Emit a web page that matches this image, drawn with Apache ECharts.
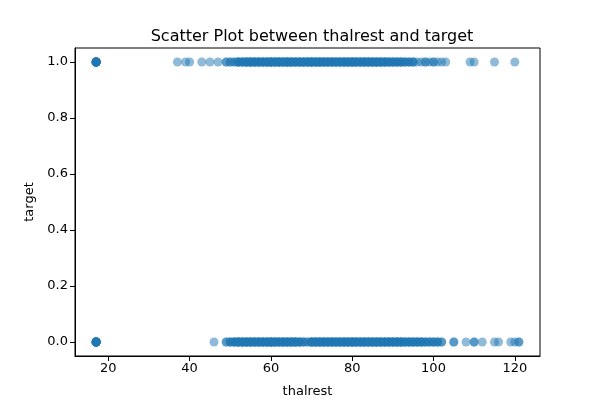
<!DOCTYPE html>
<html>
<head>
<meta charset="utf-8">
<script src="https://cdn.jsdelivr.net/npm/echarts@6/dist/echarts.min.js"></script>
<style>
  html, body { margin: 0; padding: 0; background: #fff; }
  #main { width: 600px; height: 400px; }
</style>
</head>
<body>
<div id="main"></div>
<script>
// target = 1 : thalrest values and how many rows share each value
const thalrest1 = [17, 37, 39, 40, 43, 45, 47, 49, 50, 51,
  52, 53, 54, 55, 56, 57, 58, 59, 60, 61, 62, 63, 64, 65, 66, 67, 68, 69, 70, 71, 72, 73,
  74, 75, 76, 77, 78, 79, 80, 81, 82, 83, 84, 85, 86, 87, 88, 89, 90, 91, 92, 93, 94, 95,
  96, 97, 98, 99, 100, 101, 102, 103, 109, 110, 115, 120]
const count1 = [10, 1, 1, 1, 1, 1, 1, 2, 2, 2,
  4, 4, 5, 5, 5, 5, 5, 5, 6, 5, 6, 5, 6, 5, 5, 5, 5, 5, 6, 5, 6, 5,
  5, 5, 5, 5, 5, 5, 6, 5, 5, 5, 5, 5, 5, 5, 5, 4, 4, 4, 4, 3, 3, 3,
  1, 1, 2, 1, 2, 1, 1, 1, 1, 1, 1, 1]
// target = 0
const thalrest0 = [17, 46, 49, 50, 51, 52, 53, 54, 55, 56, 57, 58, 59, 60, 61, 62, 63,
  64, 65, 66, 67, 68, 69, 70, 71, 72, 73, 74, 75, 76, 77, 78, 79, 80, 81, 82, 83, 84, 85,
  86, 87, 88, 89, 90, 91, 92, 93, 94, 95, 96, 97, 98, 99, 100, 101, 102,
  105, 108, 110, 112, 115, 116, 119, 120, 121]
const count0 = [10, 1, 2, 3, 4, 5, 5, 5, 5, 5, 5, 5, 5, 6, 5, 5, 5,
  5, 5, 5, 4, 3, 2, 5, 5, 5, 5, 5, 5, 5, 5, 5, 5, 6, 5, 5, 5, 5, 5,
  5, 5, 5, 5, 5, 5, 5, 4, 4, 4, 4, 4, 3, 3, 3, 3, 2,
  2, 1, 2, 1, 1, 1, 1, 1, 2]
const xTicks = [20, 40, 60, 80, 100, 120]
const yTicks = [0, 0.2, 0.4, 0.6, 0.8, 1.0]

const points = []
thalrest1.forEach((v, i) => {
  for (let k = 0; k < count1[i]; k++) points.push([v, 1])
})
thalrest0.forEach((v, i) => {
  for (let k = 0; k < count0[i]; k++) points.push([v, 0])
})

const font = 'DejaVu Sans'
const chart = echarts.init(document.getElementById('main'))
chart.setOption({
  animation: false,
  title: {
    text: 'Scatter Plot between thalrest and target',
    left: 307,
    textAlign: 'center',
    top: 24,
    textStyle: { fontFamily: font, fontSize: 16, fontWeight: 'normal', color: '#000' }
  },
  grid: {
    left: 75,
    right: 60,
    top: 48,
    bottom: 44,
    outerBoundsMode: 'none',
    show: true,
    borderColor: '#000',
    borderWidth: 1,
    backgroundColor: 'transparent'
  },
  xAxis: {
    type: 'value',
    min: 11.8,
    max: 126.2,
    name: 'thalrest',
    nameLocation: 'middle',
    nameGap: 29,
    nameTextStyle: { fontFamily: font, fontSize: 13, color: '#000' },
    splitLine: { show: false },
    axisLine: { show: true, onZero: false, lineStyle: { color: '#000' } },
    axisTick: { show: true, length: 5, customValues: xTicks, lineStyle: { color: '#000' } },
    axisLabel: { customValues: xTicks, fontFamily: font, fontSize: 13, color: '#000', margin: 6 }
  },
  yAxis: {
    type: 'value',
    min: -0.05,
    max: 1.05,
    name: 'target',
    nameLocation: 'middle',
    nameGap: 38,
    nameTextStyle: { fontFamily: font, fontSize: 13, color: '#000' },
    splitLine: { show: false },
    axisLine: { show: true, onZero: false, lineStyle: { color: '#000' } },
    axisTick: { show: true, length: 5, customValues: yTicks, lineStyle: { color: '#000' } },
    axisLabel: {
      customValues: yTicks,
      fontFamily: font,
      fontSize: 13,
      color: '#000',
      margin: 7,
      formatter: v => v.toFixed(1)
    }
  },
  series: [{
    type: 'scatter',
    data: points,
    symbolSize: 9,
    itemStyle: { color: '#1f77b4', opacity: 0.5 }
  }]
})
</script>
</body>
</html>
